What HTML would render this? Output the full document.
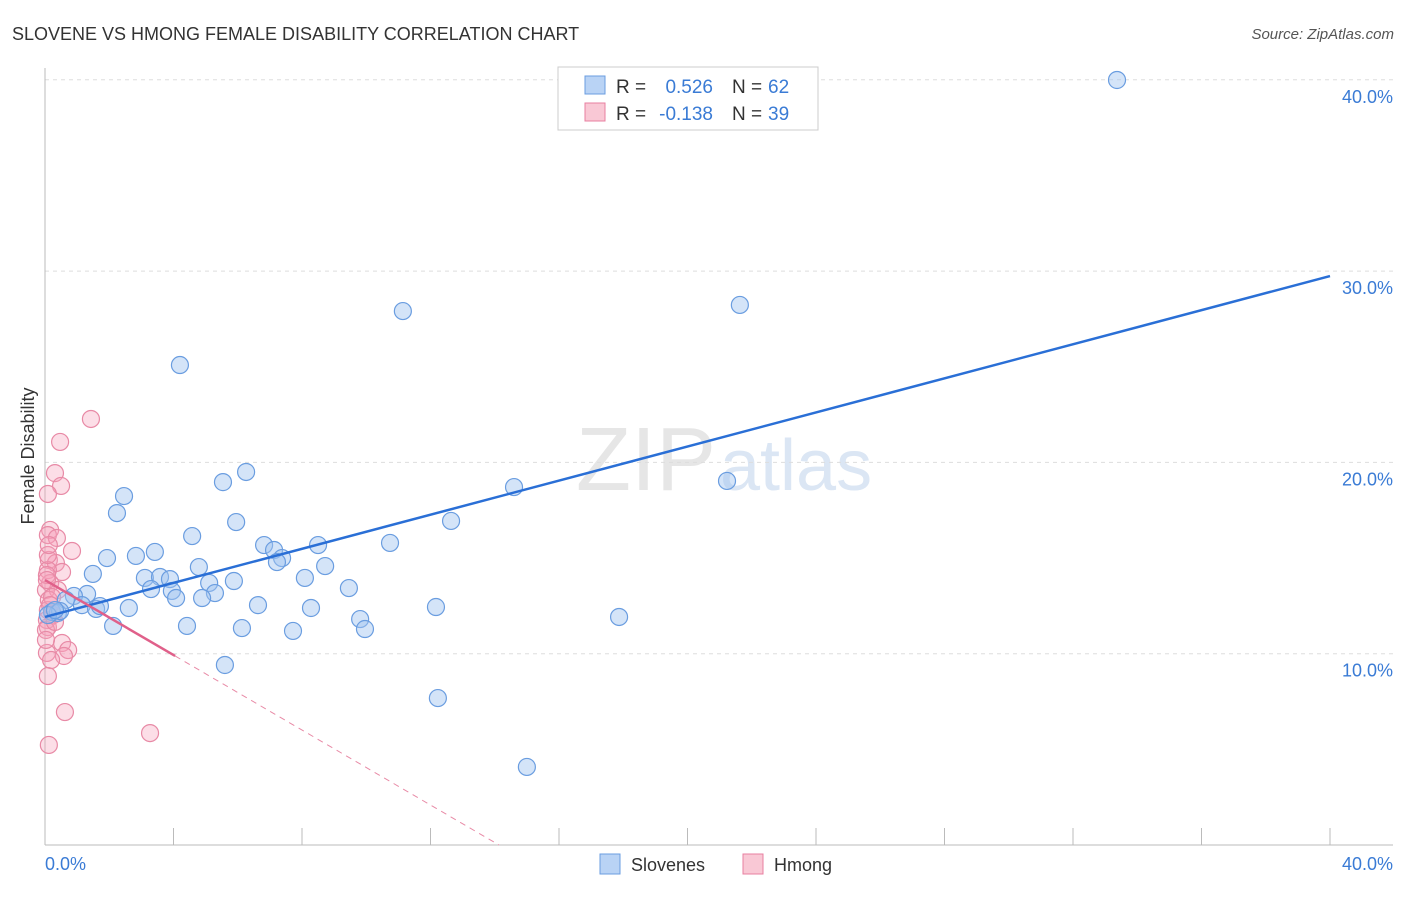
<!DOCTYPE html>
<html><head><meta charset="utf-8"><style>
body{margin:0;background:#fff;font-family:"Liberation Sans",sans-serif}
svg text{font-family:"Liberation Sans",sans-serif}
</style></head><body>
<svg id="chart" width="1406" height="892">
<text x="12" y="40" font-size="18" fill="#333">SLOVENE VS HMONG FEMALE DISABILITY CORRELATION CHART</text>
<text x="1394" y="39" font-size="15" fill="#555" font-style="italic" text-anchor="end">Source: ZipAtlas.com</text>
<text x="716" y="490" font-size="90" fill="#e6e6e6" font-family="Liberation Serif" text-anchor="end">ZIP</text>
<text x="720" y="490" font-size="72" fill="#dbe6f4">atlas</text>
<text transform="translate(34,456) rotate(-90)" font-size="18" fill="#333" text-anchor="middle">Female Disability</text>
<g id="grid"></g><g id="pts"></g><g id="lines"></g>
<text x="45" y="870" font-size="18" fill="#3a7bd5">0.0%</text>
<text x="1393" y="870" font-size="18" fill="#3a7bd5" text-anchor="end">40.0%</text>
<g>
<rect x="558" y="67" width="260" height="63" fill="#fff" stroke="#ccc"/>
<rect x="585" y="76" width="20" height="18" fill="#b9d3f5" stroke="#6a9de0"/>
<text x="616" y="93" font-size="19" fill="#333">R =</text>
<text x="713" y="93" font-size="19" fill="#3a7bd5" text-anchor="end">0.526</text>
<text x="732" y="93" font-size="19" fill="#333">N =</text>
<text x="768" y="93" font-size="19" fill="#3a7bd5">62</text>
<rect x="585" y="103" width="20" height="18" fill="#f9c8d5" stroke="#e87fa0"/>
<text x="616" y="120" font-size="19" fill="#333">R =</text>
<text x="713" y="120" font-size="19" fill="#3a7bd5" text-anchor="end">-0.138</text>
<text x="732" y="120" font-size="19" fill="#333">N =</text>
<text x="768" y="120" font-size="19" fill="#3a7bd5">39</text>
</g>
<g>
<rect x="600" y="854" width="20" height="20" fill="#b9d3f5" stroke="#6a9de0"/>
<text x="631" y="871" font-size="18" fill="#333">Slovenes</text>
<rect x="743" y="854" width="20" height="20" fill="#f9c8d5" stroke="#e87fa0"/>
<text x="774" y="871" font-size="18" fill="#333">Hmong</text>
</g>
</svg>
<script>
const yTicks=[10,20,30,40];
const xTicks=[4,8,12,16,20,24,28,32,36,40];
const blueX=[33.37,11.14,21.63,4.20,6.26,5.54,2.46,14.60,21.23,2.24,5.95,12.64,4.58,10.74,6.82,8.50,3.42,1.93,2.83,7.13,7.38,7.22,4.79,8.72,1.49,3.11,3.58,3.89,8.09,5.11,5.88,9.46,3.30,3.95,5.29,4.08,4.89,1.31,0.90,0.65,1.15,1.59,1.71,2.61,6.63,8.28,12.17,17.87,9.81,0.22,0.40,0.47,2.12,4.42,6.13,7.72,9.96,5.60,12.23,15.00,0.09,0.31];
const blueY=[39.99,27.91,28.23,25.09,19.50,18.97,18.24,18.71,19.03,17.35,16.88,16.94,16.15,15.79,15.68,15.68,15.32,15.00,15.11,15.42,15.00,14.79,14.53,14.58,14.17,13.96,14.01,13.90,13.96,13.70,13.80,13.43,13.38,13.28,13.17,12.91,12.91,13.12,13.02,12.81,12.54,12.34,12.49,12.39,12.54,12.39,12.44,11.92,11.81,12.18,12.13,12.23,11.45,11.45,11.34,11.19,11.29,9.41,7.68,4.08,12.02,12.28];
const pinkX=[1.43,0.47,0.31,0.50,0.09,0.16,0.09,0.37,0.84,0.12,0.34,0.53,0.09,0.16,0.03,0.40,0.12,0.09,0.25,0.06,0.09,0.03,0.53,0.72,0.06,0.59,0.19,0.09,0.62,3.27,0.12,0.09,0.06,0.22,0.16,0.31,0.03,0.12,0.06];
const pinkY=[22.27,21.07,19.44,18.77,18.35,16.47,16.20,16.05,15.37,14.90,14.74,14.27,14.37,13.69,13.33,13.33,12.81,12.28,12.02,11.76,11.39,11.24,10.56,10.19,10.04,9.88,9.67,8.83,6.95,5.85,5.23,15.16,14.11,12.96,12.54,11.66,10.72,15.68,13.85];
const blueTrend=[11.92,0.4455];
const pinkTrend=[13.85,-0.98];
const NS="http://www.w3.org/2000/svg";
const sx=v=>45+v*1285/40, sy=v=>845-v*19.13;
function mk(tag,attrs,parent){const e=document.createElementNS(NS,tag);for(const k in attrs)e.setAttribute(k,attrs[k]);parent.appendChild(e);return e;}
const grid=document.getElementById('grid'),pts=document.getElementById('pts'),lines=document.getElementById('lines');
yTicks.forEach(t=>{
 const l=mk('line',{x1:45,x2:1393,y1:sy(t),y2:sy(t),stroke:'#ddd','stroke-dasharray':'4 4'},grid);
 
 
 const tx=mk('text',{x:1393,y:sy(t)+23,'font-size':18,fill:'#3a7bd5','text-anchor':'end'},grid);
 tx.textContent=t.toFixed(1)+'%';
 
 
});
const ax=mk('line',{x1:45,x2:1393,y1:845,y2:845,stroke:'#bbb'},grid);


const ay=mk('line',{x1:45,x2:45,y1:68,y2:845,stroke:'#bbb'},grid);


xTicks.forEach(t=>{
 const l=mk('line',{x1:sx(t),x2:sx(t),y1:828,y2:845,stroke:'#bbb'},grid);
 
 
});
pinkX.forEach((x,i)=>{
 const c=mk('circle',{cx:sx(x),cy:sy(pinkY[i]),r:8.5,fill:'rgba(245,160,185,0.35)',stroke:'#e88aa6','stroke-width':1.2},pts);
 
 
});
blueX.forEach((x,i)=>{
 const c=mk('circle',{cx:sx(x),cy:sy(blueY[i]),r:8.5,fill:'rgba(160,195,240,0.45)',stroke:'#6a9de0','stroke-width':1.2},pts);
 
 
});
const bl=mk('line',{x1:sx(0),y1:sy(blueTrend[0]),x2:sx(40),y2:sy(blueTrend[0]+blueTrend[1]*40),stroke:'#2a6fd6','stroke-width':2.5},lines);


const pEnd=4.05, pZero=-pinkTrend[0]/pinkTrend[1];
const pl=mk('line',{x1:sx(0),y1:sy(pinkTrend[0]),x2:sx(pEnd),y2:sy(pinkTrend[0]+pinkTrend[1]*pEnd),stroke:'#e0608a','stroke-width':2.5},lines);


const pd=mk('line',{x1:sx(pEnd),y1:sy(pinkTrend[0]+pinkTrend[1]*pEnd),x2:sx(pZero),y2:sy(0),stroke:'#e88aa6','stroke-width':1,'stroke-dasharray':'6 5'},lines);


</script>
</body></html>
